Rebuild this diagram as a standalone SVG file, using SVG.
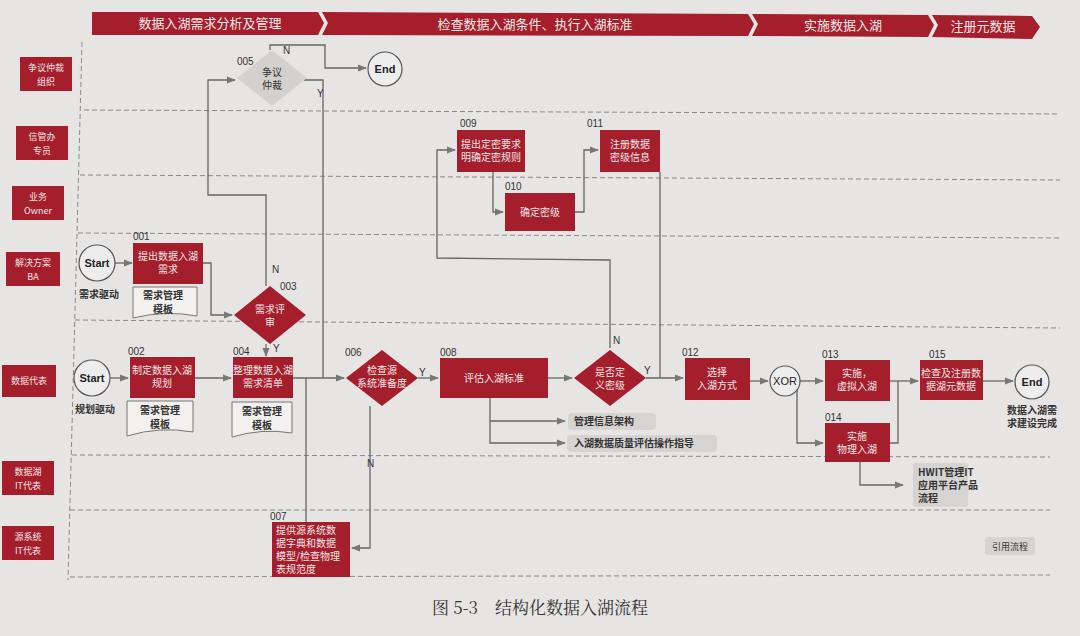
<svg xmlns="http://www.w3.org/2000/svg" width="1080" height="636" viewBox="0 0 1080 636">
<style>
text{font-family:"Noto Sans CJK SC","Liberation Sans",sans-serif;}
.r{fill:#a51e2c;}
.w{fill:#f3e6e6;font-size:10px;text-anchor:middle;}
.lb{fill:#f3e6e6;font-size:9px;text-anchor:middle;}
.hd{fill:#f5e9e9;font-size:13px;text-anchor:middle;}
.n{fill:#333;font-size:10px;font-family:"Liberation Sans",sans-serif;}
.k{fill:#333;font-size:10px;text-anchor:middle;}
.c{fill:#eeeded;stroke:#555;stroke-width:1.2;}
.ct{fill:#222;font-size:11px;font-weight:bold;text-anchor:middle;font-family:"Liberation Sans",sans-serif;}
.ln{fill:none;stroke:#666;stroke-width:1.3;}
.d{fill:none;stroke:#888;stroke-width:1;stroke-dasharray:5,3;}
.g{fill:#d6d4d3;}
.doc{fill:#f2f1f0;stroke:#777;stroke-width:1;}
</style>
<defs>
<marker id="a" viewBox="0 0 10 10" refX="9" refY="5" markerWidth="7" markerHeight="7" orient="auto"><path d="M0,1 L10,5 L0,9 z" fill="#777"/></marker>
</defs>
<rect width="1080" height="636" fill="#e7e5e4"/>
<g id="header">
<path class="r" d="M92,12 L318,12 L324,23 L318,35 L92,35 Z"/>
<path class="r" d="M322,12 L748,14 L754,24 L748,36 L322,35 L328,23 Z"/>
<path class="r" d="M752,14 L928,15 L934,25 L928,37 L752,36 L758,24 Z"/>
<path class="r" d="M932,15 L1032,16 L1040,27 L1032,39 L932,37 L938,25 Z"/>
<text class="hd" x="210" y="28">数据入湖需求分析及管理</text>
<text class="hd" x="535" y="29">检查数据入湖条件、执行入湖标准</text>
<text class="hd" x="843" y="30">实施数据入湖</text>
<text class="hd" x="983" y="31">注册元数据</text>
</g>
<g id="lanes">
<rect class="r" x="20" y="57" width="52" height="34"/><text class="lb" x="46" y="71">争议仲裁</text><text class="lb" x="46" y="85">组织</text>
<rect class="r" x="16" y="126" width="52" height="34"/><text class="lb" x="42" y="140">信管办</text><text class="lb" x="42" y="154">专员</text>
<rect class="r" x="12" y="186" width="52" height="34"/><text class="lb" x="38" y="200">业务</text><text class="lb" x="38" y="214">Owner</text>
<rect class="r" x="6" y="252" width="54" height="34"/><text class="lb" x="33" y="266">解决方案</text><text class="lb" x="33" y="280">BA</text>
<rect class="r" x="2" y="365" width="54" height="32"/><text class="lb" x="29" y="384">数据代表</text>
<rect class="r" x="2" y="461" width="52" height="34"/><text class="lb" x="28" y="475">数据湖</text><text class="lb" x="28" y="489">IT代表</text>
<rect class="r" x="2" y="526" width="52" height="34"/><text class="lb" x="28" y="540">源系统</text><text class="lb" x="28" y="554">IT代表</text>
<path class="d" d="M82,42 L68,580"/>
<path class="d" d="M84,110 L1060,114"/>
<path class="d" d="M80,175 L1060,180"/>
<path class="d" d="M78,233 L1060,238"/>
<path class="d" d="M75,320 L1060,328"/>
<path class="d" d="M72,455 L1050,457"/>
<path class="d" d="M70,510 L1050,510"/>
<path class="d" d="M70,577 L1050,575"/>
</g>
<g id="connectors">
<path class="ln" d="M115,263 L132,263" marker-end="url(#a)"/>
<path class="ln" d="M203,263 L211,263 L211,315 L232,315" marker-end="url(#a)"/>
<path class="ln" d="M266,286 L266,195 L208,195 L208,80 L235,80" marker-end="url(#a)"/>
<path class="ln" d="M270,50 L270,45 L325,45 L325,68 L366,68" marker-end="url(#a)"/>
<path class="ln" d="M304,80 L323,80 L323,378"/>
<path class="ln" d="M266,344 L266,356" marker-end="url(#a)"/>
<path class="ln" d="M110,378 L128,378" marker-end="url(#a)"/>
<path class="ln" d="M195,378 L231,378" marker-end="url(#a)"/>
<path class="ln" d="M293,378 L344,378" marker-end="url(#a)"/>
<path class="ln" d="M306,378 L306,522"/>
<path class="ln" d="M418,378 L438,378" marker-end="url(#a)"/>
<path class="ln" d="M370,406 L370,548 L352,548" marker-end="url(#a)"/>
<path class="ln" d="M548,378 L572,378" marker-end="url(#a)"/>
<path class="ln" d="M490,398 L490,443 L565,443" marker-end="url(#a)"/>
<path class="ln" d="M490,421 L565,421" marker-end="url(#a)"/>
<path class="ln" d="M610,348 L610,260 L437,258 L437,150 L455,150" marker-end="url(#a)"/>
<path class="ln" d="M493,172 L493,212 L503,212" marker-end="url(#a)"/>
<path class="ln" d="M575,212 L584,212 L584,150 L598,150" marker-end="url(#a)"/>
<path class="ln" d="M660,172 L660,378"/>
<path class="ln" d="M646,378 L683,378" marker-end="url(#a)"/>
<path class="ln" d="M750,381 L768,381" marker-end="url(#a)"/>
<path class="ln" d="M800,381 L823,381" marker-end="url(#a)"/>
<path class="ln" d="M797,381 L797,443 L823,443" marker-end="url(#a)"/>
<path class="ln" d="M890,381 L918,381" marker-end="url(#a)"/>
<path class="ln" d="M890,443 L898,443 L898,381"/>
<path class="ln" d="M983,381 L1013,381" marker-end="url(#a)"/>
<path class="ln" d="M860,462 L860,485 L903,485" marker-end="url(#a)"/>
<text class="n" x="283" y="54">N</text>
<text class="n" x="317" y="97">Y</text>
<text class="n" x="272" y="273">N</text>
<text class="n" x="273" y="352">Y</text>
<text class="n" x="419" y="376">Y</text>
<text class="n" x="367" y="467">N</text>
<text class="n" x="613" y="344">N</text>
<text class="n" x="644" y="374">Y</text>
</g>
<g id="n005"><path d="M272,50 L307,78 L272,106 L237,78 Z" fill="#d3d1d0"/><text class="k" x="272" y="76">争议</text><text class="k" x="272" y="89">仲裁</text><text class="n" x="237" y="65">005</text></g>
<g id="end1"><circle class="c" cx="385" cy="69" r="17"/><text class="ct" x="385" y="73">End</text></g>
<g id="n009"><rect class="r" x="457" y="130" width="68" height="42"/><text class="w" x="491" y="148">提出定密要求</text><text class="w" x="491" y="161">明确定密规则</text><text class="n" x="460" y="127">009</text></g>
<g id="n010"><rect class="r" x="505" y="193" width="70" height="38"/><text class="w" x="540" y="216">确定密级</text><text class="n" x="505" y="190">010</text></g>
<g id="n011"><rect class="r" x="600" y="130" width="60" height="42"/><text class="w" x="630" y="148">注册数据</text><text class="w" x="630" y="161">密级信息</text><text class="n" x="587" y="127">011</text></g>
<g id="start1"><circle class="c" cx="97" cy="263" r="18"/><text class="ct" x="97" y="267">Start</text><text class="k" x="99" y="298" style="font-weight:bold">需求驱动</text></g>
<g id="n001"><rect class="r" x="133" y="243" width="70" height="41"/><text class="w" x="168" y="260">提出数据入湖</text><text class="w" x="168" y="273">需求</text><text class="n" x="133" y="240">001</text>
<path class="doc" d="M133,287 L197,287 L197,316 Q165,310 133,318 Z"/><text class="k" x="163" y="299" style="font-weight:bold">需求管理</text><text class="k" x="163" y="313" style="font-weight:bold">模板</text></g>
<g id="n003"><path class="r" d="M270,286 L306,315 L270,344 L234,315 Z"/><text class="w" x="270" y="313">需求评</text><text class="w" x="270" y="326">审</text><text class="n" x="280" y="290">003</text></g>
<g id="start2"><circle class="c" cx="92" cy="378" r="18"/><text class="ct" x="92" y="382">Start</text><text class="k" x="95" y="413" style="font-weight:bold">规划驱动</text></g>
<g id="n002"><rect class="r" x="130" y="357" width="65" height="41"/><text class="w" x="162" y="374">制定数据入湖</text><text class="w" x="162" y="387">规划</text><text class="n" x="128" y="355">002</text>
<path class="doc" d="M127,401 L193,401 L193,432 Q160,426 127,436 Z"/><text class="k" x="160" y="414" style="font-weight:bold">需求管理</text><text class="k" x="160" y="428" style="font-weight:bold">模板</text></g>
<g id="n004"><rect class="r" x="233" y="357" width="60" height="41"/><text class="w" x="263" y="374">整理数据入湖</text><text class="w" x="263" y="387">需求清单</text><text class="n" x="233" y="355">004</text>
<path class="doc" d="M232,402 L292,402 L292,433 Q262,428 232,437 Z"/><text class="k" x="262" y="415" style="font-weight:bold">需求管理</text><text class="k" x="262" y="429" style="font-weight:bold">模板</text></g>
<g id="n006"><path class="r" d="M382,350 L418,378 L382,406 L346,378 Z"/><text class="w" x="382" y="374">检查源</text><text class="w" x="382" y="387">系统准备度</text><text class="n" x="345" y="356">006</text></g>
<g id="n008"><rect class="r" x="440" y="358" width="108" height="40"/><text class="w" x="494" y="382">评估入湖标准</text><text class="n" x="440" y="356">008</text></g>
<g id="d_miji"><path class="r" d="M610,350 L646,378 L610,406 L574,378 Z"/><text class="w" x="610" y="376">是否定</text><text class="w" x="610" y="389">义密级</text></g>
<g id="n012"><rect class="r" x="685" y="358" width="65" height="42"/><text class="w" x="717" y="376">选择</text><text class="w" x="717" y="389">入湖方式</text><text class="n" x="682" y="356">012</text></g>
<g id="xor"><circle class="c" cx="785" cy="381" r="15"/><text class="ct" x="785" y="385" style="font-weight:normal">XOR</text></g>
<g id="n013"><rect class="r" x="825" y="360" width="65" height="41"/><text class="w" x="857" y="377">实施，</text><text class="w" x="857" y="390">虚拟入湖</text><text class="n" x="822" y="358">013</text></g>
<g id="n014"><rect class="r" x="825" y="423" width="65" height="39"/><text class="w" x="857" y="440">实施</text><text class="w" x="857" y="453">物理入湖</text><text class="n" x="825" y="421">014</text></g>
<g id="n015"><rect class="r" x="920" y="360" width="63" height="40"/><text class="w" x="951" y="377">检查及注册数</text><text class="w" x="951" y="390">据湖元数据</text><text class="n" x="929" y="358">015</text></g>
<g id="end2"><circle class="c" cx="1032" cy="382" r="17"/><text class="ct" x="1032" y="386">End</text><text class="k" x="1032" y="414" style="font-weight:bold">数据入湖需</text><text class="k" x="1032" y="427" style="font-weight:bold">求建设完成</text></g>
<g id="n007"><rect class="r" x="272" y="522" width="78" height="55"/><text class="w" x="276" y="534" style="text-anchor:start">提供源系统数</text><text class="w" x="276" y="547" style="text-anchor:start">据字典和数据</text><text class="w" x="276" y="560" style="text-anchor:start">模型/检查物理</text><text class="w" x="276" y="573" style="text-anchor:start">表规范度</text><text class="n" x="270" y="520">007</text></g>
<g id="ref1"><rect class="g" x="568" y="413" width="88" height="17" rx="4"/><text class="k" x="574" y="425" style="text-anchor:start;font-weight:bold">管理信息架构</text></g>
<g id="ref2"><rect class="g" x="567" y="435" width="150" height="17" rx="4"/><text class="k" x="574" y="447" style="text-anchor:start;font-weight:bold">入湖数据质量评估操作指导</text></g>
<g id="ref3"><rect class="g" x="913" y="463" width="55" height="44" rx="3"/><text class="k" x="918" y="476" style="text-anchor:start;font-weight:bold">HWIT管理IT</text><text class="k" x="918" y="489" style="text-anchor:start;font-weight:bold">应用平台产品</text><text class="k" x="918" y="502" style="text-anchor:start;font-weight:bold">流程</text></g>
<g id="legend"><rect class="g" x="985" y="537" width="50" height="18" rx="3"/><text class="k" x="1010" y="550" style="font-size:9px">引用流程</text></g>
<text x="540" y="614" style="font-family:'Noto Serif CJK SC','Noto Sans CJK SC',serif;font-size:17px;fill:#333;text-anchor:middle">图 5-3　结构化数据入湖流程</text>
</svg>
